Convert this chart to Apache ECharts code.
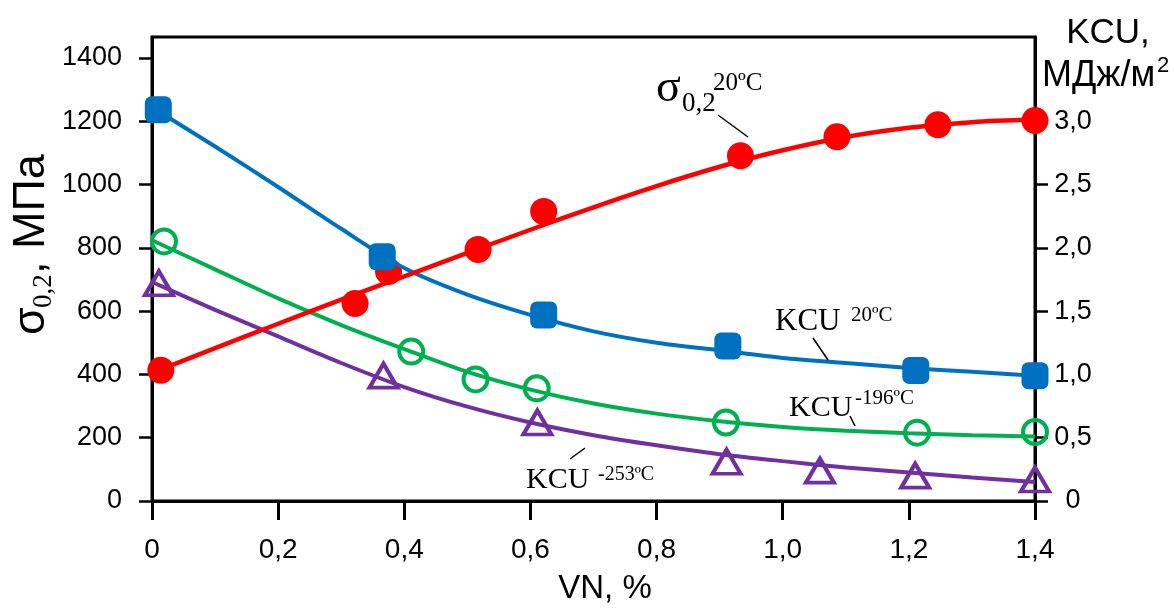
<!DOCTYPE html>
<html><head><meta charset="utf-8">
<script src="https://cdn.jsdelivr.net/npm/echarts@6/dist/echarts.min.js"></script>
<style>html,body{margin:0;padding:0;background:#fff}#c{width:1174px;height:608px}</style>
</head><body><div id="c"></div>
<script>
// ---- tick values ----
const xTicks = [0, 0.2, 0.4, 0.6, 0.8, 1.0, 1.2, 1.4];
const sigmaTicks = [0, 200, 400, 600, 800, 1000, 1200, 1400];
const kcuTicks = [0, 0.5, 1.0, 1.5, 2.0, 2.5, 3.0];

// ---- measured points ----
const sigmaVN = [0.014, 0.322, 0.375, 0.517, 0.621, 0.933, 1.086, 1.246, 1.4];
const sigma   = [413, 624, 725, 795, 915, 1091, 1151, 1189, 1202];
const kcu20VN = [0.01, 0.365, 0.621, 0.913, 1.211, 1.4];
const kcu20   = [3.09, 1.93, 1.47, 1.225, 1.03, 0.99];
const kcu196VN = [0.019, 0.411, 0.513, 0.61, 0.91, 1.213, 1.4];
const kcu196   = [2.05, 1.18, 0.96, 0.89, 0.62, 0.54, 0.545];
const kcu253VN = [0.011, 0.367, 0.611, 0.911, 1.059, 1.21, 1.4];
const kcu253   = [1.72, 0.99, 0.62, 0.31, 0.24, 0.20, 0.17];

// ---- fitted trend curves ----
const fitVN     = [0, 0.1, 0.2, 0.3, 0.4, 0.5, 0.6, 0.7, 0.8, 0.9, 1.0, 1.1, 1.2, 1.3, 1.4];
const sigmaFit  = [405, 483, 560, 636, 710, 784, 857, 928, 995, 1056, 1108, 1150, 1179, 1197, 1205];
const kcu20Fit  = [3.11, 2.80, 2.48, 2.15, 1.84, 1.63, 1.47, 1.34, 1.25, 1.19, 1.13, 1.09, 1.05, 1.02, 0.99];
const kcu196Fit = [2.06, 1.83, 1.60, 1.39, 1.20, 1.02, 0.88, 0.77, 0.69, 0.63, 0.585, 0.555, 0.535, 0.52, 0.51];
const kcu253Fit = [1.73, 1.51, 1.30, 1.09, 0.90, 0.745, 0.62, 0.52, 0.44, 0.37, 0.315, 0.265, 0.225, 0.185, 0.15];

const zip = (a, b) => a.map((v, i) => [v, b[i]]);
const comma = v => v === 0 ? '0' : v.toFixed(1).replace('.', ',');

const SANS = 'Liberation Sans';
const SERIF = 'Liberation Serif';
const RED = '#FF0000', BLUE = '#0070C0', GREEN = '#00B050', PURPLE = '#7030A0';

const chart = echarts.init(document.getElementById('c'), null, {renderer: 'canvas'});

function txt(text, x, y, size, family, align) {
  return {type: 'text', x: x, y: y, z: 100, style: {text: text, fill: '#000',
    font: size + 'px "' + family + '"', align: align || 'left', verticalAlign: 'middle'}};
}
function lead(x1, y1, x2, y2) {
  return {type: 'line', z: 100, shape: {x1: x1, y1: y1, x2: x2, y2: y2},
    style: {stroke: '#000', lineWidth: 1.5}};
}

const option = {
  backgroundColor: '#fff',
  animation: false,
  grid: {left: 152, right: 139, top: 37, bottom: 107, show: true, borderColor: '#000', borderWidth: 3},
  xAxis: {
    type: 'value', min: 0, max: 1.4, interval: 0.2,
    axisLine: {show: true, lineStyle: {color: '#000', width: 3}},
    axisTick: {show: true, length: 19, lineStyle: {color: '#000', width: 3}},
    axisLabel: {color: '#000', fontSize: 28, fontFamily: SANS, margin: 35, formatter: comma},
    splitLine: {show: false}
  },
  yAxis: [{
    type: 'value', position: 'left', min: 0, max: 1466,
    axisLine: {show: true, lineStyle: {color: '#000', width: 3}},
    axisTick: {show: true, length: 13, customValues: sigmaTicks, lineStyle: {color: '#000', width: 2.5}},
    axisLabel: {color: '#000', fontSize: 27, fontFamily: SANS, margin: 30, customValues: sigmaTicks,
      formatter: v => String(v)},
    splitLine: {show: false}
  }, {
    type: 'value', position: 'right', min: 0, max: 3.665,
    axisLine: {show: true, lineStyle: {color: '#000', width: 3}},
    axisTick: {show: true, length: 13, customValues: kcuTicks, lineStyle: {color: '#000', width: 2.5}},
    axisLabel: {color: '#000', fontSize: 27, fontFamily: SANS, margin: 38, align: 'center',
      customValues: kcuTicks, formatter: comma},
    splitLine: {show: false}
  }],
  series: [
    {type: 'line', yAxisIndex: 1, data: zip(fitVN, kcu253Fit), smooth: 0.3, showSymbol: false,
      lineStyle: {color: PURPLE, width: 4}},
    {type: 'line', yAxisIndex: 1, data: zip(fitVN, kcu196Fit), smooth: 0.3, showSymbol: false,
      lineStyle: {color: GREEN, width: 4}},
    {type: 'line', yAxisIndex: 1, data: zip(fitVN, kcu20Fit), smooth: 0.3, showSymbol: false,
      lineStyle: {color: BLUE, width: 4}},
    {type: 'line', yAxisIndex: 0, data: zip(fitVN, sigmaFit), smooth: 0.3, showSymbol: false,
      lineStyle: {color: RED, width: 4.5}},
    {type: 'scatter', yAxisIndex: 0, data: zip(sigmaVN, sigma), symbol: 'circle', symbolSize: 27,
      itemStyle: {color: RED, opacity: 1}},
    {type: 'scatter', yAxisIndex: 1, data: zip(kcu196VN, kcu196), symbol: 'circle', symbolSize: 24,
      itemStyle: {color: 'rgba(255,255,255,0)', borderColor: GREEN, borderWidth: 4, opacity: 1}},
    {type: 'scatter', yAxisIndex: 1, data: zip(kcu253VN, kcu253), symbol: 'triangle', symbolSize: [28, 24],
      itemStyle: {color: 'rgba(255,255,255,0)', borderColor: PURPLE, borderWidth: 4, opacity: 1}},
    {type: 'scatter', yAxisIndex: 1, data: zip(kcu20VN, kcu20), symbol: 'roundRect', symbolSize: 27,
      itemStyle: {color: BLUE, opacity: 1}}
  ],
  graphic: [
    // left axis title
    {type: 'group', x: 32, y: 335, rotation: Math.PI / 2, z: 100, children: [
      txt('σ', 0, 0, 45, SANS),
      txt('0,2', 27, 12, 27, SERIF),
      txt(', МПа', 61, 0, 45, SANS)
    ]},
    // right axis title
    txt('KCU,', 1108, 33, 35, SANS, 'center'),
    txt('МДж/м', 1042, 76, 36, SANS),
    txt('2', 1157, 66, 22, SANS),
    // x axis title
    txt('VN, %', 605, 589, 33, SANS, 'center'),
    // annotations
    txt('σ', 656, 89, 46, SERIF),
    txt('0,2', 682, 104, 27, SERIF),
    txt('20ºC', 713, 83, 25, SERIF),
    lead(718, 115, 748, 137),
    txt('KCU', 775, 322, 31, SERIF),
    txt('20ºC', 851, 315, 21, SERIF),
    lead(813, 338, 828, 360),
    txt('KCU', 789, 408, 30, SERIF),
    txt('-196ºC', 855, 398, 21, SERIF),
    lead(850, 416, 855, 426),
    txt('KCU', 526, 480, 30, SERIF),
    txt('-253ºC', 598, 475, 20, SERIF),
    lead(570, 459, 585, 448)
  ]
};
chart.setOption(option);
</script>
</body></html>
